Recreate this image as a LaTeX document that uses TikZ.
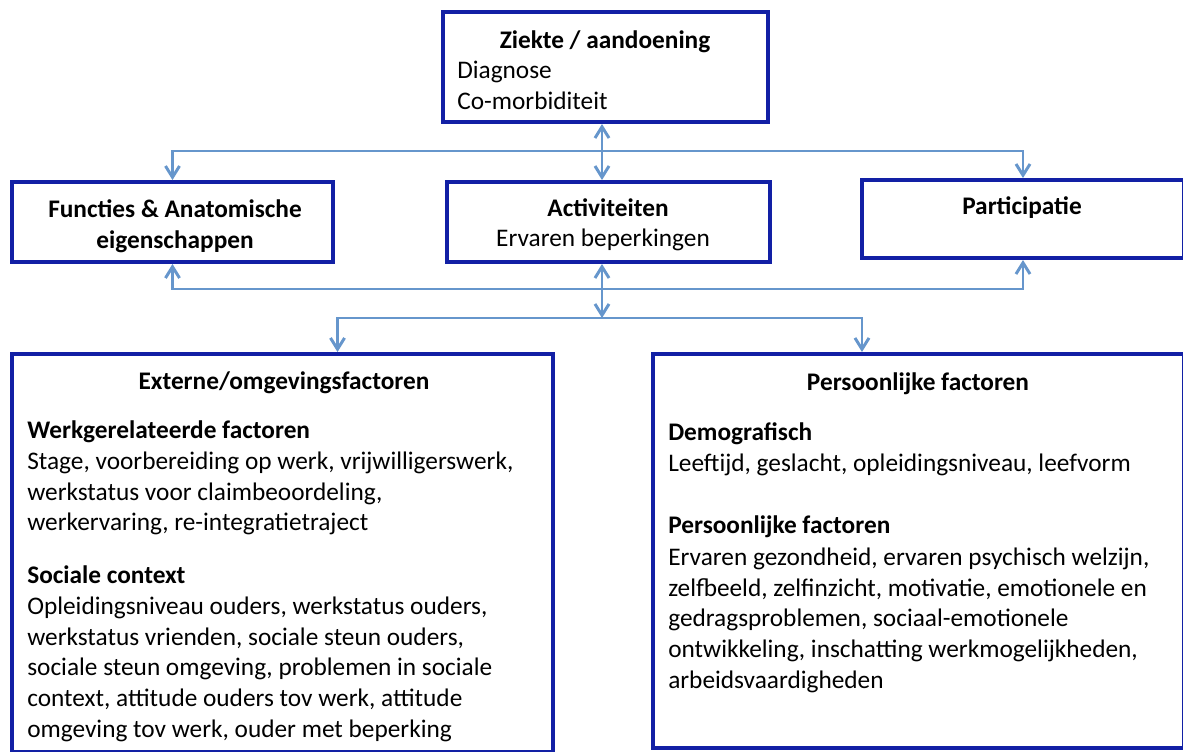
\documentclass[tikz,border=0pt]{standalone}
\usepackage{fontspec}
\setmainfont{Carlito}
\usetikzlibrary{arrows.meta}
\definecolor{boxblue}{RGB}{18,32,165}
\definecolor{linkblue}{RGB}{102,150,204}
\tikzset{
  box/.style={draw=boxblue, line width=2.8pt, inner sep=0pt, fill=white},
  link/.style={draw=linkblue, line width=2.1pt, >={Straight Barb[length=8pt,width=10pt]}},
  head/.style={font=\bfseries, anchor=base, inner sep=0pt},
  subhead/.style={font=\bfseries, anchor=base west, inner sep=0pt},
  line/.style={anchor=base, inner sep=0pt},
  txt/.style={anchor=north west, align=left, inner sep=0pt},
}
\begin{document}
\fontsize{18}{21.9}\selectfont
\begin{tikzpicture}[x=0.025cm,y=-0.025cm]
				\useasboundingbox (0,0) rectangle (1183,751);
				% boxes
				\node[box, minimum width=8.125cm, minimum height=2.75cm] (ziekte) at (605.5,67) {};
				\node[box, minimum width=8.025cm, minimum height=2cm] (functies) at (172.5,222) {};
				\node[box, minimum width=8.075cm, minimum height=2cm] (activ) at (608.5,222) {};
				\node[box, minimum width=8.05cm, minimum height=1.95cm] (partic) at (1023,219) {};
				\node[box, minimum width=13.525cm, minimum height=9.95cm] (extern) at (282.5,553) {};
				\node[box, minimum width=13.275cm, minimum height=9.85cm] (persoon) at (918.5,551) {};
				% connectors
				\coordinate (topsplit) at (602,151);
				\coordinate (botsplit) at (602,289);
				\coordinate (lowsplit) at (602,318);
				\draw[link,<->] (ziekte.south -| topsplit) -- (activ.north -| topsplit);
				\draw[link,<->] (functies.north) |- (topsplit) -| (partic.north);
				\draw[link,<->] (functies.south) |- (botsplit) -| (partic.south);
				\draw[link,<->] (activ.south -| botsplit) -- (lowsplit);
				\draw[link,<->] ([xshift=1.375cm]extern.north) |- (lowsplit) -| ([xshift=-1.4125cm]persoon.north);
				% texts
				\node[head] (ziekteT) at (605,48) {Ziekte / aandoening};
				\node[txt] (ziekteL) at (457,56.5) {\strut Diagnose\\Co-morbiditeit};
				\node[head, anchor=north, align=center] (functiesT) at (175,195.5) {\strut Functies \& Anatomische\\eigenschappen};
				\node[head] (activT) at (608,216) {Activiteiten};
				\node[line] (activL) at (603,246) {Ervaren beperkingen};
				\node[head] (particT) at (1022,214) {Participatie};
				\node[head] (externT) at (284,389) {Externe/omgevingsfactoren};
				\node[subhead] (werkH) at (27,438) {Werkgerelateerde factoren};
				\node[txt] (werkL) at (27,447.5) {\strut Stage, voorbereiding op werk, vrijwilligerswerk,\\werkstatus voor claimbeoordeling,\\werkervaring, re-integratietraject};
				\node[subhead] (sociaalH) at (27,583) {Sociale context};
				\node[txt] (sociaalL) at (27,592.5) {\strut Opleidingsniveau ouders, werkstatus ouders,\\werkstatus vrienden, sociale steun ouders,\\sociale steun omgeving, problemen in sociale\\context, attitude ouders tov werk, attitude\\omgeving tov werk, ouder met beperking};
				\node[head] (persoonT) at (918,390) {Persoonlijke factoren};
				\node[subhead] (demoH) at (668,440) {Demografisch};
				\node[txt] (demoL) at (668,449.5) {\strut Leeftijd, geslacht, opleidingsniveau, leefvorm};
				\node[subhead] (eigenH) at (668,533) {Persoonlijke factoren};
				\node[txt] (eigenL) at (668,543.5) {\strut Ervaren gezondheid, ervaren psychisch welzijn,\\zelfbeeld, zelfinzicht, motivatie, emotionele en\\gedragsproblemen, sociaal-emotionele\\ontwikkeling, inschatting werkmogelijkheden,\\arbeidsvaardigheden};
			\end{tikzpicture}
\end{document}
